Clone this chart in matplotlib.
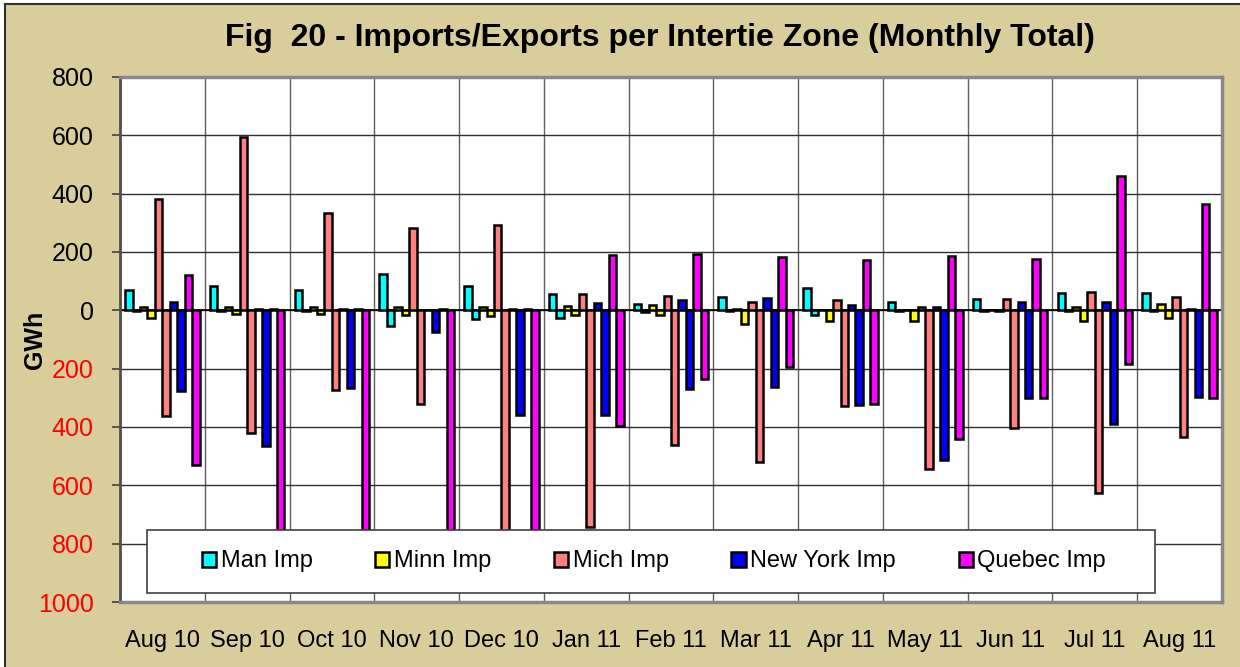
import numpy as np
import matplotlib
matplotlib.use("Agg")
from matplotlib import pyplot as plt
from matplotlib.patches import Rectangle
from matplotlib.lines import Line2D

plt.rcParams['font.family'] = ['Liberation Sans', 'DejaVu Sans']

months = ['Aug 10', 'Sep 10', 'Oct 10', 'Nov 10', 'Dec 10', 'Jan 11', 'Feb 11',
          'Mar 11', 'Apr 11', 'May 11', 'Jun 11', 'Jul 11', 'Aug 11']

# GWh per month, imports positive, exports negative
man_imp = [70, 84, 70, 125, 84, 55, 22, 46, 78, 30, 39, 60, 60]
man_exp = [-3, -2, -2, -53, -30, -28, -5, -2, -15, -1, -1, -1, -4]
minn_imp = [10, 13, 11, 13, 13, 15, 18, 3, 1, 1, 1, 10, 20]
minn_exp = [-26, -12, -14, -17, -19, -16, -15, -46, -36, -35, -3, -35, -27]
mich_imp = [380, 594, 332, 283, 293, 57, 50, 27, 35, 13, 39, 62, 46]
mich_exp = [-364, -419, -273, -322, -900, -742, -461, -519, -327, -543, -405, -628, -433]
ny_imp = [27, 3, 5, 1, 3, 25, 34, 42, 18, 11, 30, 28, 3]
ny_exp = [-278, -465, -267, -74, -358, -360, -270, -262, -326, -513, -302, -390, -298]
que_imp = [122, 3, 3, 3, 3, 188, 194, 183, 173, 185, 177, 462, 364]
que_exp = [-530, -900, -900, -900, -900, -396, -234, -195, -321, -442, -301, -185, -302]

zones = ['Man Imp', 'Minn Imp', 'Mich Imp', 'New York Imp', 'Quebec Imp']
colors = ['#00FFFF', '#FFFF00', '#FF8080', '#0000FF', '#FF00FF']
series = [(man_imp, man_exp), (minn_imp, minn_exp), (mich_imp, mich_exp),
          (ny_imp, ny_exp), (que_imp, que_exp)]

tan = '#D8CD9B'
fig = plt.figure(figsize=(12.4, 6.67), dpi=100)
fig.patch.set_facecolor('white')
# tan chart background, dark border only on top and left (rest is cut off)
fig.patches.append(Rectangle((5 / 1240, 0), 1, 1 - 4 / 667,
                             transform=fig.transFigure, facecolor=tan,
                             edgecolor='none', zorder=-10))
fig.lines.append(Line2D([5 / 1240, 1], [1 - 4 / 667] * 2, transform=fig.transFigure,
                        color='#303030', linewidth=1.5))
fig.lines.append(Line2D([5 / 1240] * 2, [0, 1 - 4 / 667], transform=fig.transFigure,
                        color='#303030', linewidth=1.5))

ax = fig.add_axes([120 / 1240, 1 - 602 / 667, 1102 / 1240, 525 / 667])
ax.set_facecolor('white')

x = np.arange(len(months))
w = 0.88 / 10
handles = []
for k, (imp, exp) in enumerate(series):
    off_imp = -0.44 + w * (2 * k) + w / 2
    off_exp = off_imp + w
    b = ax.bar(x + off_imp, imp, w, color=colors[k], edgecolor='black',
               linewidth=1.8, zorder=3, label=zones[k])
    ax.bar(x + off_exp, exp, w, color=colors[k], edgecolor='black',
           linewidth=1.8, zorder=3)
    handles.append(b)

ax.set_xlim(-0.5, len(months) - 0.5)
ax.set_ylim(-1000, 800)
yt = list(range(-1000, 801, 200))
ax.set_yticks(yt)
ax.set_yticklabels([str(abs(v)) for v in yt], fontsize=18)
for v, lab in zip(yt, ax.get_yticklabels()):
    lab.set_color('red' if v < 0 else 'black')
ax.tick_params(axis='y', length=6, width=1.2, color='#404040', pad=13)

# month boundaries as vertical gridlines, labels in the middle
ax.set_xticks(np.arange(-0.5, len(months), 1.0), minor=False)
ax.set_xticklabels([''] * (len(months) + 1))
ax.set_xticks(x, minor=True)
ax.set_xticklabels(months, minor=True, fontsize=17)
ax.tick_params(axis='x', which='both', length=0)
ax.tick_params(axis='x', which='minor', pad=20)
ax.grid(True, axis='y', color='#303030', linewidth=1.0, zorder=0)
ax.grid(True, axis='x', which='major', color='#606060', linewidth=1.0, zorder=0)
ax.set_axisbelow(True)
ax.axhline(0, color='black', linewidth=1.2, zorder=2)

for s in ['top', 'right', 'bottom']:
    ax.spines[s].set_color('#888888')
    ax.spines[s].set_linewidth(2.5)
ax.spines['left'].set_color('#505050')
ax.spines['left'].set_linewidth(2)

# legend box over the lower part of the plot
ax.add_patch(Rectangle((147 / 1240, 1 - 593 / 667), 1008 / 1240, 63 / 667,
                       transform=fig.transFigure, facecolor='white',
                       edgecolor='#404040', linewidth=1.2, zorder=4))
leg = ax.legend(handles=handles, loc='center', ncol=5, frameon=False,
                bbox_to_anchor=(654 / 1240, 1 - 561.5 / 667),
                bbox_transform=fig.transFigure, fontsize=17,
                handlelength=0.6, handleheight=0.6, handletextpad=0.2,
                columnspacing=2.65)
leg.set_zorder(5)

fig.text(660 / 1240, 1 - 38 / 667,
         'Fig  20 - Imports/Exports per Intertie Zone (Monthly Total)',
         ha='center', va='center', fontsize=23, fontweight='bold')
fig.text(35 / 1240, 1 - 340 / 667, 'GWh', rotation=90, ha='center',
         va='center', fontsize=18, fontweight='bold')

fig.savefig('out.png', dpi=100, facecolor=fig.get_facecolor())
